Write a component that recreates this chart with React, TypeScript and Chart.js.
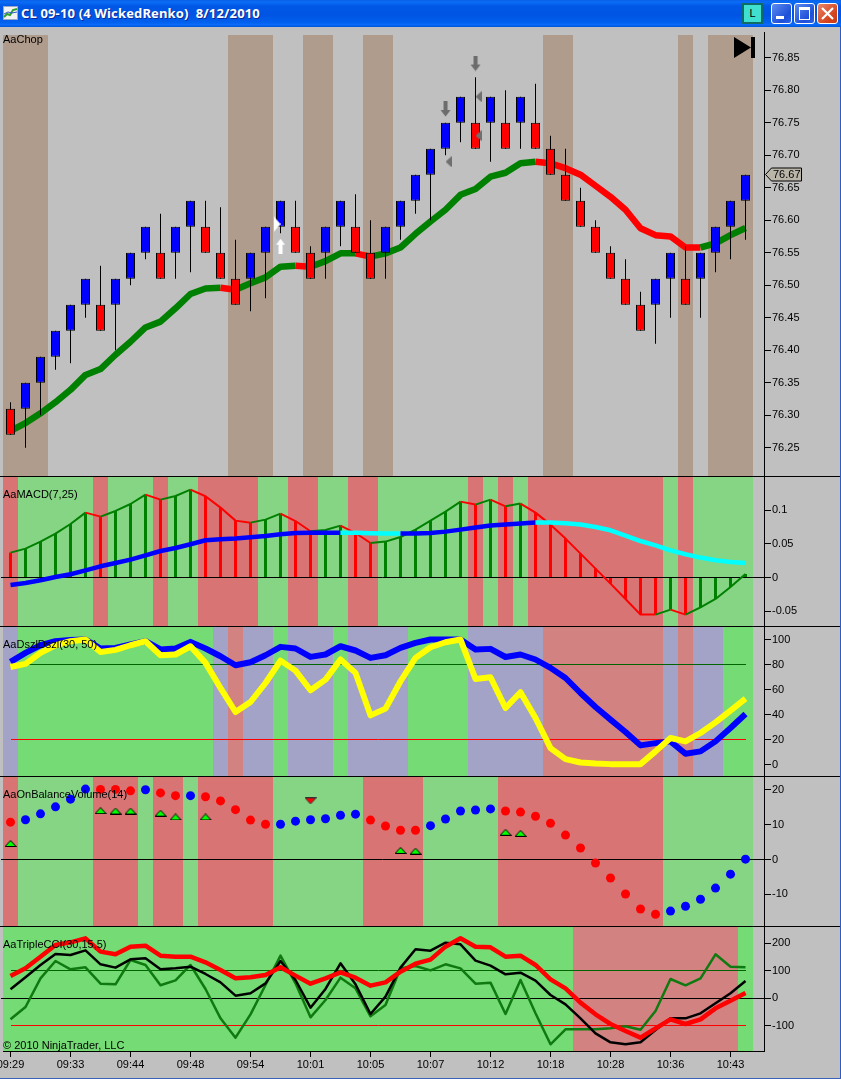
import React, { useEffect, useRef } from "react";
import { Chart, registerables } from "chart.js";

Chart.register(...registerables);

// ---------- shared ----------
const timeLabels: Record<number, string> = {
  0: "09:29", 4: "09:33", 8: "09:44", 12: "09:48", 16: "09:54", 20: "10:01", 24: "10:05",
  28: "10:07", 32: "10:12", 36: "10:18", 40: "10:28", 44: "10:36", 48: "10:43",
};

// ---------- price panel ----------
const opens = [76.31,76.31,76.35,76.39,76.43,76.47,76.47,76.47,76.51,76.55,76.55,76.55,76.59,76.59,76.55,76.51,76.51,76.55,76.59,76.59,76.55,76.55,76.59,76.59,76.55,76.55,76.59,76.63,76.67,76.71,76.75,76.75,76.75,76.75,76.75,76.75,76.71,76.67,76.63,76.59,76.55,76.51,76.47,76.47,76.51,76.51,76.51,76.55,76.59,76.63];
const closes = [76.27,76.35,76.39,76.43,76.47,76.51,76.43,76.51,76.55,76.59,76.51,76.59,76.63,76.55,76.51,76.47,76.55,76.59,76.63,76.55,76.51,76.59,76.63,76.55,76.51,76.59,76.63,76.67,76.71,76.75,76.79,76.71,76.79,76.71,76.79,76.71,76.67,76.63,76.59,76.55,76.51,76.47,76.43,76.51,76.55,76.47,76.55,76.59,76.63,76.67];
const highs = [76.32,76.35,76.39,76.43,76.47,76.51,76.53,76.51,76.55,76.59,76.61,76.59,76.63,76.63,76.62,76.57,76.55,76.59,76.63,76.63,76.56,76.59,76.63,76.64,76.60,76.59,76.63,76.67,76.71,76.75,76.79,76.82,76.79,76.80,76.79,76.81,76.73,76.71,76.65,76.60,76.56,76.54,76.49,76.51,76.55,76.56,76.55,76.59,76.63,76.67];
const lows = [76.27,76.25,76.30,76.37,76.38,76.45,76.43,76.40,76.50,76.54,76.51,76.51,76.52,76.55,76.51,76.47,76.46,76.48,76.58,76.55,76.51,76.51,76.56,76.55,76.51,76.51,76.57,76.61,76.60,76.70,76.72,76.71,76.69,76.71,76.71,76.71,76.67,76.63,76.59,76.55,76.51,76.47,76.43,76.41,76.45,76.47,76.45,76.52,76.54,76.57];
const trendLine = [76.276,76.288,76.303,76.320,76.339,76.362,76.371,76.393,76.413,76.435,76.444,76.4645,76.4865,76.495,76.496,76.493,76.503,76.512,76.5285,76.53,76.5285,76.537,76.549,76.549,76.544,76.549,76.558,76.579,76.598,76.616,76.639,76.648,76.667,76.673,76.6875,76.69,76.6875,76.68,76.67,76.653,76.636,76.616,76.5875,76.577,76.575,76.558,76.558,76.5645,76.577,76.588];
const trendDown = [0,0,0,0,0,0,0,0,0,0,0,0,0,0,0,1,0,0,0,0,1,0,0,0,1,0,0,0,0,0,0,0,0,0,0,0,1,1,1,1,1,1,1,1,1,1,1,0,0,0];
const chop = [1,1,1,0,0,0,0,0,0,0,0,0,0,0,0,1,1,1,0,0,1,1,0,0,1,1,0,0,0,0,0,0,0,0,0,0,1,1,0,0,0,0,0,0,0,1,0,1,1,1];
const priceTicks = [76.25,76.30,76.35,76.40,76.45,76.50,76.55,76.60,76.65,76.70,76.75,76.80,76.85];
const grayDownArrows = [{ x: 29, y: 76.771 }, { x: 31, y: 76.841 }];
const grayLeftMarks = [{ x: 29.2, y: 76.69 }, { x: 31.2, y: 76.79 }, { x: 31.2, y: 76.73 }];
const whiteUpArrows = [{ x: 18, y: 76.56 }];
const whiteRightMarks = [{ x: 17.77, y: 76.594 }];

// ---------- MACD ----------
const macdState = [1,0,0,0,0,0,1,0,0,0,1,0,0,1,1,1,1,0,0,1,1,0,0,1,1,0,0,0,0,0,0,1,0,1,0,1,1,1,1,1,1,1,1,1,0,1,0,0,0,0];
const macdDiff = [.0371,.0431,.0535,.0654,.0798,.0967,.0908,.0992,.1096,.1236,.1161,.1215,.1310,.1211,.1042,.0848,.0818,.0863,.0952,.0842,.0689,.0708,.0774,.0663,.0514,.0535,.0604,.0714,.0848,.0982,.1131,.1087,.1161,.1061,.1102,.0967,.0788,.0580,.0356,.0132,-.0091,-.0320,-.0553,-.0553,-.0479,-.0553,-.0444,-.0320,-.0142,.0052];
const macdSignal = [-.0112,-.0082,-.0042,.0007,.0048,.0107,.0167,.0216,.0267,.0331,.0395,.0440,.0495,.0555,.0570,.0580,.0599,.0619,.0644,.0663,.0669,.0669,.0669,.0669,.0660,.0655,.0655,.0655,.0663,.0684,.0714,.0744,.0774,.0789,.0804,.0819,.0819,.0808,.0789,.0753,.0704,.0625,.0544,.0480,.0404,.0346,.0297,.0256,.0231,.0216];
const signalCyan = [0,0,0,0,0,0,0,0,0,0,0,0,0,0,0,0,0,0,0,0,0,0,0,1,1,1,1,0,0,0,0,0,0,0,0,0,1,1,1,1,1,1,1,1,1,1,1,1,1,1];
const macdTicks = [-0.05, 0, 0.05, 0.1];

// ---------- DsZ ----------
const dszState = [2,0,0,0,0,0,0,0,0,0,0,0,0,0,2,1,2,2,0,2,2,2,0,2,2,2,2,0,0,0,0,2,2,2,2,2,1,1,1,1,1,1,1,1,2,1,2,2,0,0];
const dszBlue = [82.1,89.3,95.4,98.6,99.7,100,92.8,93.3,96,98.6,92,92.8,98.1,92.8,86.6,79.4,81.8,87.4,94.1,92.8,86.1,88,94.6,91.2,85.3,87.4,93.3,97.3,100,100,100,92,92.5,86,88,84,77.3,69.2,57.2,46,35.9,26,15.3,17.1,18.5,8.6,10.5,18.5,29.2,40.4];
const dszYellow = [78,80.5,89.3,95.4,98.6,100,90,91.7,95.4,98.6,87.4,88,94.6,81.3,61.2,42,50,65.2,83.1,75.1,59.4,67.9,84,73.3,39.3,44.7,66.6,85.3,93.8,97.8,100,68.4,69.8,45.2,57.8,37.2,13.1,4.3,1.6,.8,.3,.3,.3,10.5,21.2,18.5,25.2,33.7,43.1,52.7];
const dszTicks = [0, 20, 40, 60, 80, 100];

// ---------- On balance volume ----------
const obvState = [1,0,0,0,0,0,1,1,1,0,1,1,0,1,1,1,1,1,0,0,0,0,0,0,1,1,1,1,0,0,0,0,0,1,1,1,1,1,1,1,1,1,1,1,0,0,0,0,0,0];
const obvValues = [10.7,11.4,13.1,15.1,17.3,20.2,20.1,20.1,19.7,20,19.1,18.3,18.3,18,16.8,14.3,11.3,10.1,10.1,11,11.4,11.7,12.7,13,11.3,9.6,8.4,8.4,9.7,11.6,13.9,14.2,14.5,13.9,13.6,12.4,10.4,7,3.3,-1,-5.3,-9.9,-14.2,-15.7,-14.8,-13.4,-11.4,-8.2,-4.2,.1];
const obvUpMarks = [{ x: 0, y: 4.6 }, { x: 6, y: 14 }, { x: 7, y: 13.9 }, { x: 8, y: 13.9 }, { x: 10, y: 13.3 }, { x: 11, y: 12.2 }, { x: 13, y: 12.2 }, { x: 26, y: 2.6 }, { x: 27, y: 2.4 }, { x: 33, y: 7.8 }, { x: 34, y: 7.5 }];
const obvDownMarks = [{ x: 20, y: 16.8 }];
const obvTicks = [-10, 0, 10, 20];

// ---------- Triple CCI ----------
const cciState = [0,0,0,0,0,0,0,0,0,0,0,0,0,0,0,0,0,0,0,0,0,0,0,0,0,0,0,0,0,0,0,0,0,0,0,0,0,0,1,1,1,1,1,1,1,1,1,1,1,0];
const cciRed = [81,109,151.4,194,203.7,218.3,169.7,160,187.9,191.6,155.1,151.4,151.4,130.8,102.8,72.5,76.1,84.6,112.6,82.2,53,72.5,94.3,74.9,45.7,57.9,96.8,125.9,140.5,187.9,218.3,187.9,185.5,151.4,155.1,121.1,68.8,36,-16.2,-58.8,-94,-119.5,-143.8,-109.8,-77,-94,-77,-36.9,-8.9,19];
const cciBlack = [32.4,76.1,121.1,161.2,157.5,174.5,123.5,111.4,141.7,145.4,105.3,108.9,115,88.3,57.9,9.3,17.8,54.2,135.7,66.4,-34.5,33.6,127.1,50.6,-57.6,5.6,111.4,178.2,173.3,202.5,196.4,136.9,118.6,87,93.1,64,11.7,-22.3,-73.4,-128,-160.8,-168.1,-160.8,-115.9,-73.4,-73.4,-55.1,-18.7,17.8,62.7];
const cciGreen = [-77,-32,72.5,135.7,105.3,112.6,53,50.6,139.3,121.1,47,65.2,121.1,33.6,-73.4,-143.8,-58.8,48.2,155.1,54.2,-69.7,-6.5,74.9,36,-66,-24.7,108.9,117.4,101.6,123.5,108.9,53,56.7,-57.6,66.4,-55.1,-168.1,-113.5,-113.5,-113.5,-109.8,-102.5,-114.7,-46.6,70,47,72.5,160,115,112.6];
const cciTicks = [-100, 0, 100, 200];

const FONT = '"Liberation Sans", Arial, sans-serif';
const XMIN = -0.5;
const XMAX = 50.233;
const GREEN = "#008000";
const RED = "#FF0000";
const BLUE = "#0000FF";

const xy = (arr: number[]) => arr.map((y, x) => ({ x, y }));

function band(states: number[], palette: string[], lo: number, hi: number) {
  return {
    type: "bar",
    data: states.map((_, x) => ({ x, y: [lo, hi] })),
    backgroundColor: states.map((s) => palette[s]),
    barThickness: 15,
    grouped: false,
    borderWidth: 0,
    borderSkipped: false,
    inflateAmount: 0,
    order: 100,
  };
}

function lineSet(values: number[], color: string | ((i: number) => string), width: number, order: number) {
  const base: any = {
    type: "line",
    data: xy(values),
    borderWidth: width,
    pointRadius: 0,
    tension: 0,
    borderJoinStyle: "round",
    borderCapStyle: "butt",
    fill: false,
    order,
  };
  if (typeof color === "string") base.borderColor = color;
  else {
    base.borderColor = color(0);
    base.segment = { borderColor: (c: any) => color(c.p1DataIndex) };
  }
  return base;
}

function markSet(points: { x: number; y: number }[], icon: HTMLCanvasElement, order: number) {
  return {
    type: "line",
    data: points,
    showLine: false,
    pointStyle: icon,
    pointRadius: 5,
    order,
  };
}

function icon(w: number, h: number, draw: (c: CanvasRenderingContext2D) => void) {
  const cv = document.createElement("canvas");
  cv.width = w;
  cv.height = h;
  draw(cv.getContext("2d") as CanvasRenderingContext2D);
  return cv;
}

function poly(c: CanvasRenderingContext2D, pts: number[][], fill: string, stroke?: string) {
  c.beginPath();
  pts.forEach((p, i) => (i ? c.lineTo(p[0], p[1]) : c.moveTo(p[0], p[1])));
  c.closePath();
  c.fillStyle = fill;
  c.fill();
  if (stroke) {
    c.strokeStyle = stroke;
    c.lineWidth = 1;
    c.stroke();
  }
}

type Ref = { value: number; color: string; span: boolean };

function refLines(lines: Ref[]) {
  return {
    id: "refLines",
    afterDatasetDraw(chart: any, args: any) {
      if (args.index !== 0) return;
      const { ctx, scales, chartArea } = chart;
      ctx.save();
      ctx.lineWidth = 1;
      lines.forEach((l) => {
        const y = Math.round(scales.y.getPixelForValue(l.value) - 0.5) + 0.5;
        const x0 = l.span ? 1 : Math.round(scales.x.getPixelForValue(0));
        const x1 = l.span ? chartArea.right : Math.round(scales.x.getPixelForValue(49));
        ctx.strokeStyle = l.color;
        ctx.beginPath();
        ctx.moveTo(x0, y);
        ctx.lineTo(x1, y);
        ctx.stroke();
      });
      ctx.restore();
    },
  };
}

const lastPriceTag = {
  id: "lastPriceTag",
  afterDraw(chart: any) {
    const { ctx, scales } = chart;
    const value = closes[closes.length - 1];
    const y = Math.round(scales.y.getPixelForValue(value) - 0.5) + 0.5;
    ctx.save();
    ctx.beginPath();
    ctx.moveTo(765.5, y);
    ctx.lineTo(771.5, y - 6.5);
    ctx.lineTo(801.5, y - 6.5);
    ctx.lineTo(801.5, y + 6.5);
    ctx.lineTo(771.5, y + 6.5);
    ctx.closePath();
    ctx.fillStyle = "#B9B6A9";
    ctx.fill();
    ctx.strokeStyle = "#000";
    ctx.lineWidth = 1;
    ctx.stroke();
    ctx.fillStyle = "#000";
    ctx.font = `11px ${FONT}`;
    ctx.textBaseline = "middle";
    ctx.textAlign = "left";
    ctx.fillText(value.toFixed(2), 773, y + 0.5);
    ctx.restore();
  },
};

type PanelCfg = {
  datasets: any[];
  min: number;
  max: number;
  ticks: number[];
  fmt: (v: number) => string;
  showX?: boolean;
  plugins?: any[];
};

function makePanel(canvas: HTMLCanvasElement, cfg: PanelCfg) {
  const tickFont = { family: FONT, size: 11 };
  return new Chart(canvas, {
    type: "line",
    data: { datasets: cfg.datasets },
    plugins: cfg.plugins || [],
    options: {
      animation: false,
      responsive: false,
      devicePixelRatio: 1,
      events: [],
      layout: { autoPadding: false, padding: { left: 3, right: 0, top: 0, bottom: 0 } },
      plugins: { legend: { display: false }, tooltip: { enabled: false }, title: { display: false } },
      scales: {
        x: {
          type: "linear",
          display: !!cfg.showX,
          min: XMIN,
          max: XMAX,
          offset: false,
          border: { display: true, color: "#000", width: 1 },
          grid: { drawOnChartArea: false, drawTicks: true, tickLength: 6, color: "#000", offset: false },
          ticks: {
            autoSkip: false,
            maxRotation: 0,
            minRotation: 0,
            padding: 1,
            color: "#000",
            font: tickFont,
            callback: (v: any) => timeLabels[v as number] ?? "",
          },
          afterBuildTicks: (s: any) => {
            s.ticks = Object.keys(timeLabels).map((k) => ({ value: Number(k) }));
          },
          afterFit: (s: any) => {
            if (cfg.showX) s.height = 24;
            s.paddingLeft = 0;
            s.paddingRight = 0;
          },
        },
        y: {
          type: "linear",
          position: "right",
          min: cfg.min,
          max: cfg.max,
          border: { display: true, color: "#000", width: 1 },
          grid: { drawOnChartArea: false, drawTicks: true, tickLength: 7, color: "#000" },
          ticks: {
            autoSkip: false,
            padding: 1,
            color: "#000",
            font: tickFont,
            callback: (v: any) => cfg.fmt(Number(v)),
          },
          afterBuildTicks: (s: any) => {
            s.ticks = cfg.ticks.map((value) => ({ value }));
          },
          afterFit: (s: any) => {
            s.width = 76;
            s.paddingTop = 0;
            s.paddingBottom = 0;
          },
        },
      },
    } as any,
  } as any);
}

const labelStyle = (top: number): React.CSSProperties => ({
  position: "absolute",
  left: 3,
  top,
  font: `11px/13px ${FONT}`,
  color: "#000",
  whiteSpace: "pre",
  zIndex: 3,
});

const btn = (left: number, bg: string): React.CSSProperties => ({
  position: "absolute",
  left,
  top: 3,
  width: 19,
  height: 19,
  border: "1px solid #fff",
  borderRadius: 3,
  background: bg,
});

export default function App() {
  const c1 = useRef<HTMLCanvasElement>(null);
  const c2 = useRef<HTMLCanvasElement>(null);
  const c3 = useRef<HTMLCanvasElement>(null);
  const c4 = useRef<HTMLCanvasElement>(null);
  const c5 = useRef<HTMLCanvasElement>(null);

  useEffect(() => {
    const gap = { brown: "#B09C8C" };
    const downArrow = icon(11, 16, (c) => {
      poly(c, [[3.5, 0], [7.5, 0], [7.5, 9], [10.5, 9], [5.5, 15.5], [0.5, 9], [3.5, 9]], "#6C6C6C");
    });
    const leftMark = icon(6, 11, (c) => poly(c, [[0, 5.5], [6, 0], [6, 11]], "#6F6F6F"));
    const upWhite = icon(9, 15, (c) => {
      poly(c, [[4.5, 0], [9, 6], [6.5, 6], [6.5, 15], [2.5, 15], [2.5, 6], [0, 6]], "#FFFFFF");
    });
    const rightWhite = icon(7, 16, (c) => poly(c, [[0, 0], [7, 8], [0, 16]], "#FFFFFF"));
    const upGreen = icon(12, 7, (c) => poly(c, [[6, 0.5], [11.5, 6.5], [0.5, 6.5]], "#00FF00", "#000"));
    const downRed = icon(12, 7, (c) => poly(c, [[0.5, 0.5], [11.5, 0.5], [6, 6.5]], "#FF0000", "#333"));

    const pMin = 76.2065, pMax = 76.8895;
    const bodyColors = closes.map((cl, i) => (cl > opens[i] ? BLUE : RED));
    const priceChart = makePanel(c1.current!, {
      min: pMin,
      max: pMax,
      ticks: priceTicks,
      fmt: (v) => v.toFixed(2),
      plugins: [lastPriceTag],
      datasets: [
        band(chop, ["rgba(0,0,0,0)", gap.brown], pMin, 76.885),
        markSet(grayDownArrows, downArrow, 0),
        markSet(grayLeftMarks, leftMark, 0),
        markSet(whiteUpArrows, upWhite, 0),
        markSet(whiteRightMarks, rightWhite, 0),
        {
          type: "bar",
          data: closes.map((cl, x) => ({ x, y: [Math.min(cl, opens[x]), Math.max(cl, opens[x])] })),
          backgroundColor: bodyColors,
          borderColor: "#000",
          borderWidth: 1,
          borderSkipped: false,
          inflateAmount: 0,
          barThickness: 9,
          grouped: false,
          order: 2,
        },
        {
          type: "bar",
          data: highs.map((h, x) => ({ x, y: [lows[x], h] })),
          backgroundColor: "#000",
          borderWidth: 0,
          inflateAmount: 0,
          barThickness: 1,
          grouped: false,
          order: 3,
        },
        lineSet(trendLine, (i) => (trendDown[i] ? RED : GREEN), 6.5, 4),
      ],
    });

    const mMin = -0.07231, mMax = 0.14984;
    const macdChart = makePanel(c2.current!, {
      min: mMin,
      max: mMax,
      ticks: macdTicks,
      fmt: (v) => (v === 0 ? "0" : String(v)),
      plugins: [refLines([{ value: 0, color: "#000", span: true }])],
      datasets: [
        band(macdState, ["#85D585", "#D97474"], mMin, mMax),
        lineSet(macdDiff, (i) => (macdState[i] ? RED : GREEN), 2, 3),
        {
          type: "bar",
          data: macdDiff.map((v, x) => ({ x, y: [0, v] })),
          backgroundColor: macdState.map((s) => (s ? RED : GREEN)),
          borderWidth: 0,
          inflateAmount: 0,
          barThickness: 3,
          grouped: false,
          order: 4,
        },
        lineSet(macdSignal, (i) => (signalCyan[i] ? "#00FFFF" : BLUE), 4.5, 2),
      ],
    });

    const dMin = -9.2, dMax = 110;
    const dszChart = makePanel(c3.current!, {
      min: dMin,
      max: dMax,
      ticks: dszTicks,
      fmt: (v) => String(v),
      plugins: [refLines([
        { value: 80, color: "#006400", span: false },
        { value: 20, color: RED, span: false },
      ])],
      datasets: [
        band(dszState, ["#75DB75", "#D38282", "#A3A3C8"], dMin, dMax),
        lineSet(dszYellow, "#FFFF00", 6, 2),
        lineSet(dszBlue, BLUE, 6, 3),
      ],
    });

    const oMin = -19.07, oMax = 23.66;
    const obvChart = makePanel(c4.current!, {
      min: oMin,
      max: oMax,
      ticks: obvTicks,
      fmt: (v) => String(v),
      plugins: [refLines([{ value: 0, color: "#000", span: true }])],
      datasets: [
        band(obvState, ["#85D585", "#D97474"], oMin, oMax),
        {
          type: "line",
          data: xy(obvValues),
          showLine: false,
          pointStyle: "circle",
          pointRadius: 4.5,
          pointBorderWidth: 0,
          pointBackgroundColor: obvState.map((s) => (s ? RED : BLUE)),
          order: 2,
        },
        markSet(obvUpMarks, upGreen, 1),
        markSet(obvDownMarks, downRed, 1),
      ],
    });

    const cMin = -192.5, cMax = 259.6;
    const cciChart = makePanel(c5.current!, {
      min: cMin,
      max: cMax,
      ticks: cciTicks,
      fmt: (v) => String(v),
      showX: true,
      plugins: [refLines([
        { value: 100, color: "#006400", span: false },
        { value: 0, color: "#000", span: true },
        { value: -100, color: RED, span: false },
      ])],
      datasets: [
        band(cciState, ["#75DB75", "#D38282"], cMin, cMax),
        lineSet(cciRed, RED, 4.5, 1),
        lineSet(cciBlack, "#000000", 2.5, 2),
        lineSet(cciGreen, "#0F7A0F", 2.5, 3),
      ],
    });

    return () => {
      priceChart.destroy();
      macdChart.destroy();
      dszChart.destroy();
      obvChart.destroy();
      cciChart.destroy();
    };
  }, []);

  const canvasStyle = (top: number): React.CSSProperties => ({ position: "absolute", left: 0, top, display: "block" });

  return (
    <div style={{ position: "relative", width: 841, height: 1079, overflow: "hidden", background: "#C0C0C0" }}>
      <style>{`html,body{margin:0;padding:0;background:#C0C0C0}`}</style>

      <div
        style={{
          position: "absolute", left: 0, top: 0, width: 841, height: 27,
          background: "linear-gradient(#0A62E8 0%, #0A6CF6 8%, #0058E6 22%, #0054E3 55%, #0060EE 82%, #0A6CF8 92%, #0053D8 100%)",
        }}
      >
        <svg width={15} height={14} style={{ position: "absolute", left: 3, top: 6 }}>
          <rect x={0.5} y={0.5} width={14} height={13} fill="#F2F2F2" stroke="#9AA8C8" />
          <polyline points="1,11 4,8 7,9 10,4 14,3" fill="none" stroke="#2E9E2E" strokeWidth={2} />
          <polyline points="1,8 5,6 9,7 14,6" fill="none" stroke="#2C5CC8" strokeWidth={1} />
        </svg>
        <div
          style={{
            position: "absolute", left: 21, top: 5, color: "#fff", whiteSpace: "pre", letterSpacing: "0.15px",
            font: 'bold 13px/17px "Noto Sans", sans-serif', textShadow: "1px 1px 0 #0A2A9C",
          }}
        >
          {"CL 09-10 (4 WickedRenko)  8/12/2010"}
        </div>
        <div
          style={{
            position: "absolute", left: 742, top: 3, width: 17, height: 17, border: "2px solid #106A66",
            background: "#40E0D0", color: "#000", textAlign: "center", font: `11px/17px ${FONT}`,
          }}
        >
          L
        </div>
        <div style={btn(771, "linear-gradient(135deg,#5C8CF0,#1D4FD8 70%,#2E62E8)")}>
          <div style={{ position: "absolute", left: 4, top: 12, width: 8, height: 3, background: "#fff" }} />
        </div>
        <div style={btn(794, "linear-gradient(135deg,#5C8CF0,#1D4FD8 70%,#2E62E8)")}>
          <div style={{ position: "absolute", left: 4, top: 3, width: 9, height: 9, border: "1px solid #fff", borderTopWidth: 3 }} />
        </div>
        <div style={btn(817, "linear-gradient(135deg,#E8866A,#D4431C 70%,#C83A14)")}>
          <svg width={19} height={19} style={{ position: "absolute", left: 0, top: 0 }}>
            <path d="M4 4 L15 15 M15 4 L4 15" stroke="#fff" strokeWidth={2.2} />
          </svg>
        </div>
      </div>

      <canvas ref={c1} width={840} height={444} style={canvasStyle(32)} />
      <canvas ref={c2} width={840} height={149} style={canvasStyle(477)} />
      <canvas ref={c3} width={840} height={149} style={canvasStyle(627)} />
      <canvas ref={c4} width={840} height={149} style={canvasStyle(777)} />
      <canvas ref={c5} width={840} height={148} style={canvasStyle(927)} />

      {[476, 626, 776, 926].map((y) => (
        <div key={y} style={{ position: "absolute", left: 0, top: y, width: 840, height: 1, background: "#000", zIndex: 2 }} />
      ))}

      <div style={labelStyle(33)}>AaChop</div>
      <div style={labelStyle(488)}>AaMACD(7,25)</div>
      <div style={labelStyle(638)}>AaDszlDszl(30, 50)</div>
      <div style={labelStyle(788)}>AaOnBalanceVolume(14)</div>
      <div style={labelStyle(938)}>AaTripleCCI(30,15,5)</div>
      <div style={labelStyle(1039)}>© 2010 NinjaTrader, LLC</div>

      <svg width={22} height={22} style={{ position: "absolute", left: 734, top: 37, zIndex: 3 }}>
        <path d="M0 0 L17 10.5 L0 21 Z" fill="#000" />
        <rect x={17} y={0} width={4} height={21} fill="#000" />
      </svg>

      <div style={{ position: "absolute", left: 840, top: 27, width: 1, height: 1052, background: "#2A5CC8", zIndex: 4 }} />
      <div style={{ position: "absolute", left: 0, top: 1078, width: 841, height: 1, background: "#3A62B8", zIndex: 4 }} />
    </div>
  );
}
